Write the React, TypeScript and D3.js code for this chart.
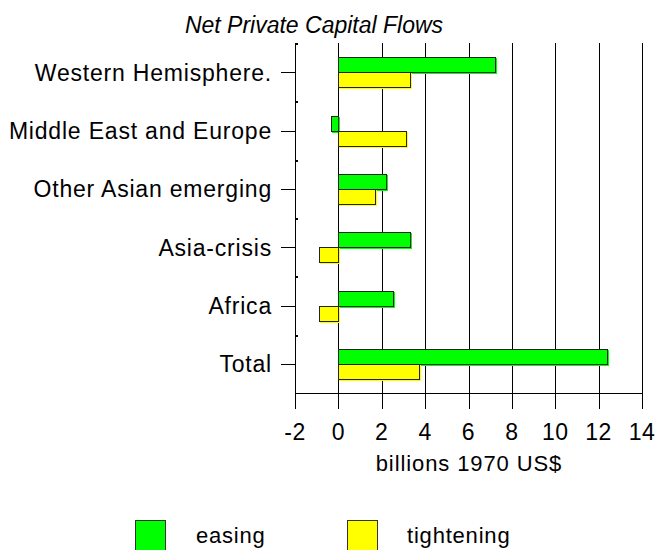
import React from "react";
import * as d3 from "d3";

const categories = ["Western Hemisphere.", "Middle East and Europe", "Other Asian emerging", "Asia-crisis", "Africa", "Total"];
const easing = [7.2, -0.35, 2.2, 3.3, 2.5, 12.4];
const tightening = [3.3, 3.1, 1.7, -0.9, -0.9, 3.7];
const xTicks = [-2, 0, 2, 4, 6, 8, 10, 12, 14];
const seriesNames = ["easing", "tightening"];
const seriesColors = ["#00ff00", "#ffff00"];

const W = 658, H = 550;
const left = 295, right = 642, top = 43, bottom = 393;

export default function App() {
  const x = d3.scaleLinear().domain([-2, 14]).range([left, right]);
  const y = d3.scaleBand().domain(categories).range([top, bottom]);
  const bh = 15;
  const font = "Liberation Sans, Arial, sans-serif";
  const bar = (v: number, yy: number, color: string, key: string) => {
    const x0 = Math.round(x(Math.min(0, v)));
    const x1 = Math.round(x(Math.max(0, v)));
    return (
      <g key={key}>
        <rect x={x0 + 1} y={yy + 1} width={x1 - x0 + 1} height={bh + 1} fill={color} />
        <rect x={x0 + 0.5} y={yy + 0.5} width={x1 - x0} height={bh} fill={color} stroke="#222" strokeWidth={1} />
      </g>
    );
  };
  return (
    <svg width={W} height={H} style={{ position: "absolute", left: 0, top: 0 }} fontFamily={font}>
      <rect width={W} height={H} fill="#fff" />
      <text x={314} y={33} textAnchor="middle" fontSize={23} fontStyle="italic">Net Private Capital Flows</text>
      {xTicks.map((t) => (
        <line key={t} x1={Math.round(x(t)) + 0.5} x2={Math.round(x(t)) + 0.5} y1={top} y2={409} stroke="#000" strokeWidth={1} />
      ))}
      <line x1={left} x2={right + 1} y1={bottom + 0.5} y2={bottom + 0.5} stroke="#000" />
      {categories.map((c, i) => {
        const yc = (y(c) as number) + y.bandwidth() / 2;
        return (
          <g key={c}>
            <line x1={281} x2={left} y1={Math.round(yc) + 0.5} y2={Math.round(yc) + 0.5} stroke="#000" />
            <rect x={left + 1} y={Math.round(y(c) as number)} width={2} height={2} fill="#000" />
            <text x={272} y={yc + 8.5} textAnchor="end" fontSize={23} letterSpacing={0.8}>{c}</text>
            {bar(easing[i], Math.round(yc) - bh, seriesColors[0], c + "e")}
            {bar(tightening[i], Math.round(yc), seriesColors[1], c + "t")}
          </g>
        );
      })}
      {xTicks.map((t) => (
        <text key={"l" + t} x={x(t)} y={440} textAnchor="middle" fontSize={23} letterSpacing={0.5}>{t}</text>
      ))}
      <text x={469} y={471} textAnchor="middle" fontSize={22} letterSpacing={0.9}>billions 1970 US$</text>
      {seriesNames.map((s, i) => {
        const lx = [135, 347][i];
        const tx = [196, 407][i];
        return (
          <g key={s}>
            <rect x={lx + 1} y={521} width={30} height={32} fill={seriesColors[i]} />
            <rect x={lx + 0.5} y={520.5} width={30} height={32} fill={seriesColors[i]} stroke="#333" />
            <text x={tx} y={543} fontSize={22} letterSpacing={0.8}>{s}</text>
          </g>
        );
      })}
    </svg>
  );
}
